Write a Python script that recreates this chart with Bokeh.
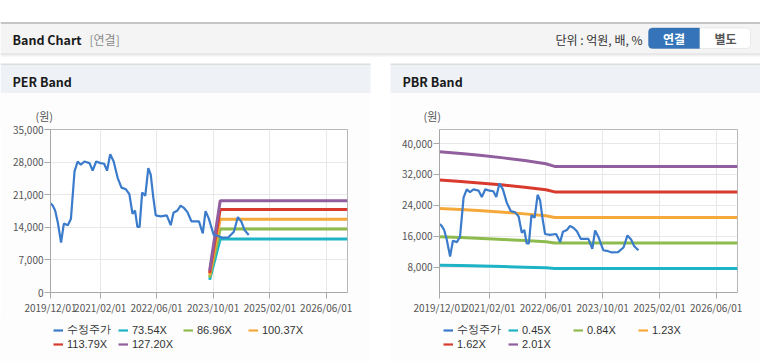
import pandas as pd
from bokeh.plotting import figure
from bokeh.models import (Range1d, FixedTicker, DatetimeTickFormatter, NumeralTickFormatter,
                          Legend, LegendItem, BoxAnnotation, Label, Spacer)
from bokeh.layouts import column, row
from bokeh.core.properties import value
from bokeh.embed import file_html
from bokeh.resources import INLINE

# ---------------- data ----------------
price_dates = ["2019-12-01", "2019-12-20", "2020-01-10", "2020-02-01", "2020-03-01", "2020-03-25",
               "2020-04-28", "2020-05-25", "2020-06-25", "2020-07-22", "2020-08-18", "2020-09-18",
               "2020-11-01", "2020-11-28", "2020-12-28", "2021-02-03", "2021-03-07", "2021-04-01",
               "2021-04-28", "2021-05-28", "2021-07-01", "2021-08-03", "2021-09-10", "2021-10-10",
               "2021-11-06", "2021-11-28", "2021-12-18", "2022-01-06", "2022-01-28", "2022-02-24",
               "2022-03-22", "2022-04-12", "2022-05-04", "2022-05-25", "2022-07-06", "2022-08-28",
               "2022-10-01", "2022-10-25", "2022-11-28", "2022-12-25", "2023-01-25", "2023-02-22",
               "2023-03-28", "2023-06-01", "2023-07-04", "2023-07-28", "2023-08-25", "2023-09-15",
               "2023-10-06", "2023-11-06", "2023-12-18", "2024-02-10", "2024-03-28", "2024-05-01",
               "2024-06-01", "2024-06-28", "2024-08-03"]
price_vals = [19150, 18660, 17600, 15150, 10730, 14800,
              14450, 15850, 26020, 28130, 27420, 28130,
              27780, 26160, 28130, 27780, 27640, 26160,
              29670, 28130, 24620, 22520, 22160, 21110,
              16900, 17600, 14100, 14100, 21460, 20760,
              26720, 25320, 20410, 16550, 16340, 16550,
              14450, 17110, 17600, 18660, 18100, 17250,
              15290, 15290, 12700, 17460, 15850, 14100,
              12350, 12200, 11780, 11850, 13050, 16200,
              15150, 13400, 12350]

per_labels = ["73.54X", "86.96X", "100.37X", "113.79X", "127.20X"]
per_band_dates = ["2023-09-01", "2023-12-01", "2026-12-01"]
per_band_73 = [2700, 11500, 11500]
per_band_87 = [3200, 13610, 13610]
per_band_100 = [3700, 15710, 15710]
per_band_114 = [4200, 17820, 17820]
per_band_127 = [4700, 19710, 19710]

pbr_labels = ["0.45X", "0.84X", "1.23X", "1.62X", "2.01X"]
pbr_band_dates = ["2019-12-01", "2020-06-01", "2020-12-01", "2021-06-01", "2021-12-01",
                  "2022-06-01", "2022-08-15", "2026-12-01"]
pbr_band_045 = [8480, 8370, 8260, 8120, 7970, 7790, 7630, 7630]
pbr_band_084 = [15830, 15620, 15410, 15160, 14870, 14530, 14240, 14240]
pbr_band_123 = [23180, 22880, 22570, 22200, 21770, 21280, 20850, 20850]
pbr_band_162 = [30530, 30130, 29730, 29240, 28670, 28030, 27460, 27460]
pbr_band_201 = [37880, 37390, 36880, 36280, 35580, 34770, 34070, 34070]

x_ticks = ["2019-12-01", "2021-02-01", "2022-06-01", "2023-10-01", "2025-02-01", "2026-06-01"]
x_start, x_end = "2019-12-01", "2026-12-01"
per_y_ticks = [0, 7000, 14000, 21000, 28000, 35000]
pbr_y_ticks = [8000, 16000, 24000, 32000, 40000]

PRICE_LABEL = "수정주가"
UNIT_LABEL = "(원)"
band_colors = ["#1fb3c6", "#8dbb4e", "#f5a93a", "#d93a2e", "#915e9e"]
price_color = "#3b7bcb"

LAT = "Liberation Sans"
KR = "Noto Sans CJK KR"
PANEL_BG = "#fdfdfd"

W = 760


def blank(w, h, x0, y0, bg="white"):
    f = figure(width=w, height=h, x_range=Range1d(x0, x0 + w), y_range=Range1d(y0 + h, y0),
               output_backend="svg", toolbar_location=None, min_border=0, outline_line_color=None,
               title=None)
    f.axis.visible = False
    f.grid.visible = False
    f.background_fill_color = bg
    f.border_fill_color = bg
    return f


# ---------------- header ----------------
hdr = blank(W, 63, 0, 0)
hdr.quad(left=[0], right=[W], top=[22], bottom=[53], fill_color="#f4f4f4", line_color=None)
hdr.segment(x0=[0], x1=[W], y0=[22.5], y1=[22.5], line_color="#b4b4b4", line_width=1.5)
hdr.segment(x0=[0, 0, 0], x1=[W, W, W], y0=[53.5, 54.5, 55.5], y1=[53.5, 54.5, 55.5],
            line_color=["#d6d6d6", "#e4e4e4", "#f1f1f1"], line_width=1)
hdr.text(x=[12], y=[38.5], text=["Band Chart"], text_font=value(KR), text_font_style="bold",
         text_font_size="12.5px", text_color="#1a1a1a", text_baseline="middle")
hdr.text(x=[89], y=[38.5], text=["[연결]"], text_font=value(KR),
         text_font_size="12px", text_color="#8a8a8a", text_baseline="middle")
hdr.text(x=[642], y=[38.5], text=["단위 : 억원, 배, %"], text_font=value(KR),
         text_font_size="12px", text_color="#333333", text_baseline="middle", text_align="right")
hdr.add_layout(BoxAnnotation(left=648, right=750, top=27.5, bottom=48, fill_color="white", fill_alpha=1,
                             line_color="#c4c4c4", line_width=1, border_radius=4))
hdr.add_layout(BoxAnnotation(left=648, right=699, top=27.5, bottom=48, fill_color="#3574b8", fill_alpha=1,
                             line_color="#2c66a8", line_width=1, border_radius=(4, 0, 0, 4)))
hdr.add_layout(Label(x=673.5, y=38, text="연결", text_font=KR, text_font_style="bold",
                     text_font_size="12px", text_color="white", text_baseline="middle", text_align="center"))
hdr.add_layout(Label(x=725, y=38, text="별도", text_font=KR, text_font_style="bold",
                     text_font_size="12px", text_color="#555555", text_baseline="middle", text_align="center"))

# ---------------- panel headers ----------------
ph = blank(W, 30, 0, 63)
ph.quad(left=[0, 390], right=[370, W], top=[64, 64], bottom=[93, 93], fill_color="#eef2f7", line_color=None)
ph.segment(x0=[0, 390], x1=[370, W], y0=[63.5, 63.5], y1=[63.5, 63.5], line_color="#d4d4d4", line_width=1.5)
ph.text(x=[12, 402], y=[80.5, 80.5], text=["PER Band", "PBR Band"], text_font=value(KR),
        text_font_style="bold", text_font_size="12.5px", text_color="#1a1a1a", text_baseline="middle")

# ---------------- unit strips ----------------
unitL = blank(370, 30, 0, 93, PANEL_BG)
unitL.text(x=[35], y=[115], text=[UNIT_LABEL], text_font=value(KR), text_font_size="11px",
           text_color="#555555", text_baseline="middle")
unitR = blank(370, 30, 390, 93, PANEL_BG)
unitR.text(x=[423], y=[115], text=[UNIT_LABEL], text_font=value(KR), text_font_size="11px",
           text_color="#555555", text_baseline="middle")

# ---------------- bottom border strip ----------------
bot = blank(W, 3, 0, 361)
bot.segment(x0=[0, 390], x1=[370, W], y0=[362.5, 362.5], y1=[362.5, 362.5], line_color="#d4d4d4", line_width=1.5)


def ms(d):
    return pd.Timestamp(d).value // 10**6


def make_chart(left_border, right_border, y_range, y_ticks):
    p = figure(width=370, height=194, x_axis_type="datetime",
               x_range=Range1d(pd.Timestamp(x_start), pd.Timestamp(x_end)), y_range=y_range,
               output_backend="svg", toolbar_location=None, title=None,
               min_border_left=left_border, min_border_right=right_border,
               min_border_top=6, min_border_bottom=22)
    p.background_fill_color = "white"
    p.border_fill_color = PANEL_BG
    p.outline_line_color = "#b8b8b8"
    p.xaxis.ticker = FixedTicker(ticks=[ms(d) for d in x_ticks])
    fmt = "%Y/%m/%d"
    p.xaxis.formatter = DatetimeTickFormatter(milliseconds=fmt, seconds=fmt, minsec=fmt, minutes=fmt,
                                              hourmin=fmt, hours=fmt, days=fmt, months=fmt, years=fmt)
    p.yaxis.ticker = FixedTicker(ticks=y_ticks)
    p.yaxis.formatter = NumeralTickFormatter(format="0,0")
    for ax in (p.xaxis, p.yaxis):
        ax.axis_line_color = "#a8a8a8"
        ax.major_tick_line_color = "#a8a8a8"
        ax.major_tick_out = 6
        ax.major_tick_in = 0
        ax.minor_tick_line_color = None
        ax.major_label_text_font = KR
        ax.major_label_text_font_size = "10px"
        ax.major_label_text_color = "#555555"
        ax.major_label_standoff = 1
    p.grid.grid_line_color = "#e8e8e8"
    return p


def make_legend(x0, labels):
    f = blank(370, 44, x0, 317, PANEL_BG)
    nan = float("nan")
    rs = [f.line(x=[nan, nan], y=[nan, nan], line_color=c, line_width=2.2)
          for c in [price_color] + band_colors]
    items = [LegendItem(label=l, renderers=[r]) for l, r in zip([PRICE_LABEL] + labels, rs)]
    lg = Legend(items=items, location=(53, 10), orientation="horizontal", ncols=4,
                glyph_width=10, glyph_height=14, label_height=14, label_width=51, label_standoff=4,
                spacing=0, padding=0, margin=0, border_line_color=None, background_fill_alpha=0,
                label_text_font=LAT, label_text_font_size="11px", label_text_color="#333333")
    f.add_layout(lg)
    return f


pdates = pd.to_datetime(price_dates)

# PER
per = make_chart(50, 23, Range1d(0, 35000), per_y_ticks)
pbd = pd.to_datetime(per_band_dates)
for vals, c in zip([per_band_73, per_band_87, per_band_100, per_band_114, per_band_127], band_colors):
    per.line(pbd, vals, line_color=c, line_width=3)
per.line(pdates, price_vals, line_color=price_color, line_width=2.2)

# PBR
pbr = make_chart(49, 23, Range1d(1400, 43630), pbr_y_ticks)
bbd = pd.to_datetime(pbr_band_dates)
for vals, c in zip([pbr_band_045, pbr_band_084, pbr_band_123, pbr_band_162, pbr_band_201], band_colors):
    pbr.line(bbd, vals, line_color=c, line_width=3)
pbr.line(pdates, price_vals, line_color=price_color, line_width=2.2)

legL = make_legend(0, per_labels)
legR = make_legend(390, pbr_labels)

layout = column(
    hdr, ph,
    row(unitL, Spacer(width=20, height=30), unitR, spacing=0),
    row(per, Spacer(width=20, height=194), pbr, spacing=0),
    row(legL, Spacer(width=20, height=44), legR, spacing=0),
    bot, spacing=0)

open("out.html", "w").write(file_html(layout, INLINE))
